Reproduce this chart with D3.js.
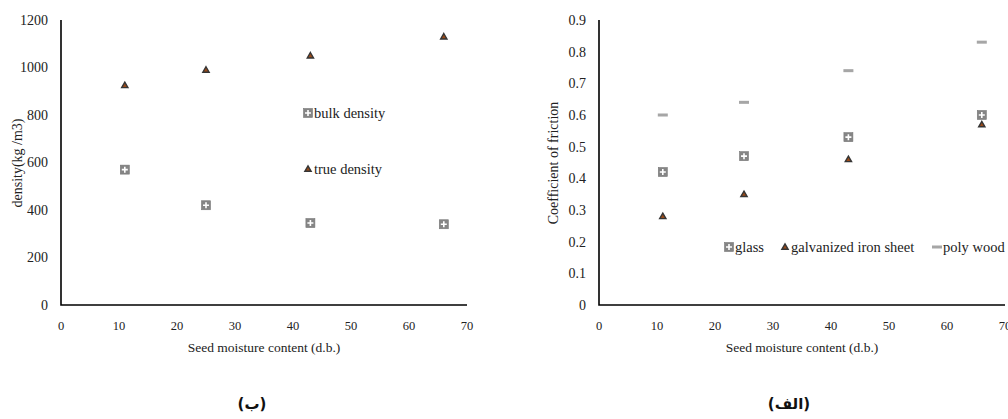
<!DOCTYPE html>
<html>
<head>
<meta charset="utf-8">
<script src="https://cdn.jsdelivr.net/npm/d3@7"></script>
<style>
  body { margin: 0; background: #fff; }
  svg { display: block; font-family: "Liberation Serif", "Times New Roman", serif; }
</style>
</head>
<body>
<div id="chart"></div>
<script>
// moisture levels (d.b.)
const moisture = [11, 25, 43, 66];

// right panel (الف) : coefficient of friction
const glass = [0.42, 0.47, 0.53, 0.60];
const ironSheet = [0.28, 0.35, 0.46, 0.57];
const polyWood = [0.60, 0.64, 0.74, 0.83];

// left panel (ب) : density
const bulkDensity = [570, 420, 345, 340];
const trueDensity = [925, 990, 1050, 1130];

const xTicks = [0, 10, 20, 30, 40, 50, 60, 70];
const densityTicks = [0, 200, 400, 600, 800, 1000, 1200];
const frictionTicks = [0, 0.1, 0.2, 0.3, 0.4, 0.5, 0.6, 0.7, 0.8, 0.9];

const W = 1008, H = 419;
const svg = d3.select("#chart").append("svg").attr("width", W).attr("height", H);

// marker drawers
function plusSquare(g, cx, cy) {
    g.append("rect").attr("x", cx - 4.5).attr("y", cy - 4.5).attr("width", 9).attr("height", 9)
        .attr("fill", "#858585").attr("stroke", "#777").attr("stroke-width", 0.6);
    g.append("path").attr("d", `M${cx - 3},${cy}H${cx + 3}M${cx},${cy - 3}V${cy + 3}`)
        .attr("stroke", "#fff").attr("stroke-width", 1.6);
}
function triangle(g, cx, cy) {
    g.append("path").attr("transform", `translate(${cx},${cy + 0.5})`)
        .attr("d", d3.symbol(d3.symbolTriangle, 17)())
        .attr("fill", "#9a4a18").attr("stroke", "#353535").attr("stroke-width", 1.4);
}
function dash(g, cx, cy) {
    g.append("rect").attr("x", cx - 5).attr("y", cy - 1.5).attr("width", 10).attr("height", 3)
        .attr("fill", "#a6a6a6");
}

function panel(opts) {
    const x = d3.scaleLinear().domain([0, 70]).range([opts.left, opts.left + 406]);
    const y = d3.scaleLinear().domain(opts.yDomain).range([305, 20]);
    const g = svg.append("g");

    // y tick labels
    g.append("g").selectAll("text").data(opts.yTicks).join("text")
        .attr("x", opts.left - 13).attr("y", d => y(d)).attr("dy", "0.35em")
        .attr("text-anchor", "end").style("font-size", "14px").attr("fill", "#222")
        .text(opts.yFormat);

    // x tick labels
    g.append("g").selectAll("text").data(xTicks).join("text")
        .attr("x", d => x(d)).attr("y", 326).attr("dy", "0.35em")
        .attr("text-anchor", "middle").style("font-size", "12.5px").attr("fill", "#222")
        .text(d => d);

    // axis lines
    g.append("path")
        .attr("d", `M${x(0)},${y(opts.yDomain[1])}V${y(0)}H${x(70)}`)
        .attr("fill", "none").attr("stroke", "#000").attr("stroke-width", 1.6);

    // titles
    g.append("text").attr("x", x(35)).attr("y", 347).attr("dy", "0.35em")
        .attr("text-anchor", "middle").style("font-size", "13.5px").attr("fill", "#222")
        .text("Seed moisture content (d.b.)");
    g.append("text")
        .attr("transform", `translate(${opts.yTitleX},${163}) rotate(-90)`)
        .attr("text-anchor", "middle").attr("dy", "0.35em")
        .style("font-size", "14px").attr("fill", "#222")
        .text(opts.yTitle);

    // series
    opts.series.forEach(s => {
        const sg = g.append("g");
        s.values.forEach((v, i) => s.marker(sg, x(moisture[i]), y(v)));
    });

    // legend
    opts.legend.forEach(l => {
        l.marker(g, l.x, l.y);
        g.append("text").attr("x", l.x + 6).attr("y", l.y).attr("dy", "0.35em")
            .style("font-size", "14.5px").attr("fill", "#222").text(l.label);
    });

    // panel caption
    svg.append("text").attr("x", opts.captionX).attr("y", 404).attr("dy", "0.35em")
        .attr("text-anchor", "middle")
        .style("font-family", "'DejaVu Sans', sans-serif").style("font-weight", "bold")
        .style("font-size", "15px").attr("fill", "#111")
        .text(opts.caption);
}

panel({
    left: 61,
    yDomain: [0, 1200],
    yTicks: densityTicks,
    yFormat: d => d,
    yTitle: "density(kg /m3)",
    yTitleX: 17,
    series: [
        { values: bulkDensity, marker: plusSquare },
        { values: trueDensity, marker: triangle }
    ],
    legend: [
        { label: "bulk density", marker: plusSquare, x: 308, y: 113 },
        { label: "true density", marker: triangle, x: 308, y: 169 }
    ],
    caption: "(ب)",
    captionX: 252
});

panel({
    left: 599,
    yDomain: [0, 0.9],
    yTicks: frictionTicks,
    yFormat: d => d3.format(".1~f")(d),
    yTitle: "Coefficient of friction",
    yTitleX: 553,
    series: [
        { values: polyWood, marker: dash },
        { values: glass, marker: plusSquare },
        { values: ironSheet, marker: triangle }
    ],
    legend: [
        { label: "glass", marker: plusSquare, x: 729, y: 247 },
        { label: "galvanized iron sheet", marker: triangle, x: 785, y: 247 },
        { label: "poly wood", marker: dash, x: 937, y: 247 }
    ],
    caption: "(الف)",
    captionX: 789
});
</script>
</body>
</html>
